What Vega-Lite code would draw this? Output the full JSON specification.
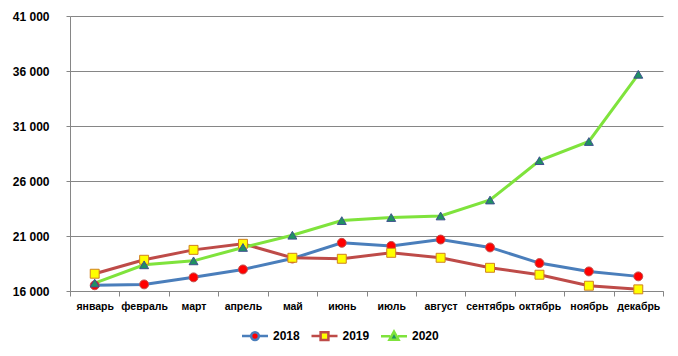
{
  "$schema": "https://vega.github.io/schema/vega-lite/v6.json",
  "width": 593,
  "height": 275,
  "autosize": {"type": "none"},
  "padding": {"left": 70, "top": 16, "right": 15, "bottom": 65},
  "background": "white",
  "config": {
    "view": {"stroke": null},
    "font": "Liberation Sans",
    "axis": {"labelColor": "#000000", "labelFontWeight": "bold", "labelFont": "Liberation Sans"}
  },
  "data": {
    "values": [
      {"month": "январь", "year": "2018", "value": 16520},
      {"month": "февраль", "year": "2018", "value": 16600},
      {"month": "март", "year": "2018", "value": 17240},
      {"month": "апрель", "year": "2018", "value": 17960},
      {"month": "май", "year": "2018", "value": 18950},
      {"month": "июнь", "year": "2018", "value": 20380},
      {"month": "июль", "year": "2018", "value": 20100},
      {"month": "август", "year": "2018", "value": 20680},
      {"month": "сентябрь", "year": "2018", "value": 19960},
      {"month": "октябрь", "year": "2018", "value": 18540},
      {"month": "ноябрь", "year": "2018", "value": 17780},
      {"month": "декабрь", "year": "2018", "value": 17330},
      {"month": "январь", "year": "2019", "value": 17570},
      {"month": "февраль", "year": "2019", "value": 18840},
      {"month": "март", "year": "2019", "value": 19740},
      {"month": "апрель", "year": "2019", "value": 20290},
      {"month": "май", "year": "2019", "value": 19020},
      {"month": "июнь", "year": "2019", "value": 18930},
      {"month": "июль", "year": "2019", "value": 19470},
      {"month": "август", "year": "2019", "value": 19020},
      {"month": "сентябрь", "year": "2019", "value": 18110},
      {"month": "октябрь", "year": "2019", "value": 17480},
      {"month": "ноябрь", "year": "2019", "value": 16480},
      {"month": "декабрь", "year": "2019", "value": 16150},
      {"month": "январь", "year": "2020", "value": 16720},
      {"month": "февраль", "year": "2020", "value": 18380},
      {"month": "март", "year": "2020", "value": 18740},
      {"month": "апрель", "year": "2020", "value": 19960},
      {"month": "май", "year": "2020", "value": 21070},
      {"month": "июнь", "year": "2020", "value": 22400},
      {"month": "июль", "year": "2020", "value": 22680},
      {"month": "август", "year": "2020", "value": 22820},
      {"month": "сентябрь", "year": "2020", "value": 24270},
      {"month": "октябрь", "year": "2020", "value": 27850},
      {"month": "ноябрь", "year": "2020", "value": 29590},
      {"month": "декабрь", "year": "2020", "value": 35700}
    ]
  },
  "encoding": {
    "x": {
      "field": "month",
      "type": "nominal",
      "sort": ["январь", "февраль", "март", "апрель", "май", "июнь", "июль", "август", "сентябрь", "октябрь", "ноябрь", "декабрь"],
      "scale": {"type": "band", "paddingInner": 0, "paddingOuter": 0},
      "bandPosition": 0.5,
      "axis": {
        "title": null,
        "labelAngle": 0,
        "labelFontSize": 10.5,
        "tickBand": "extent",
        "tickSize": 5,
        "tickColor": "#868686",
        "domainColor": "#868686",
        "labelPadding": 5,
        "grid": false
      }
    },
    "y": {
      "field": "value",
      "type": "quantitative",
      "scale": {"domain": [16000, 41000], "nice": false, "zero": false},
      "axis": {
        "title": null,
        "values": [16000, 21000, 26000, 31000, 36000, 41000],
        "labelExpr": "replace(format(datum.value, ','), ',', ' ')",
        "labelFontSize": 12,
        "tickSize": 4,
        "tickColor": "#868686",
        "domainColor": "#868686",
        "gridColor": "#868686",
        "labelPadding": 17
      }
    }
  },
  "layer": [
    {
      "mark": {"type": "line", "strokeWidth": 3},
      "encoding": {
        "stroke": {
          "field": "year",
          "type": "nominal",
          "scale": {"domain": ["2018", "2019", "2020"], "range": ["#4A7EBB", "#BE4B48", "#7FE33C"]},
          "legend": {
            "title": null,
            "orient": "none",
            "direction": "horizontal",
            "legendX": 177,
            "legendY": 312,
            "labelFontSize": 12,
            "labelFontWeight": "bold",
            "labelColor": "#000000",
            "symbolSize": 169,
            "symbolStrokeWidth": 2.5,
            "labelOffset": 10,
            "columnPadding": 6.5,
            "encode": {
              "symbols": {
                "update": {
                  "shape": {"signal": "datum.value == '2018' ? 'M-2,0H-0.6M0.6,0H2M-0.6,0A0.6,0.6,0,1,1,0.6,0A0.6,0.6,0,1,1,-0.6,0Z' : datum.value == '2019' ? 'M-2,0H-0.6M0.6,0H2M-0.6,-0.6H0.6V0.6H-0.6Z' : 'M-2,0H-0.6M0.6,0H2M0,-0.7L0.7,0.55H-0.7Z'"},
                  "fill": {"signal": "datum.value == '2018' ? '#FF0000' : datum.value == '2019' ? '#FFFF00' : '#1F9163'"}
                }
              }
            }
          }
        }
      }
    },
    {
      "mark": {"type": "point", "filled": true, "size": 80, "strokeWidth": 1, "opacity": 1},
      "encoding": {
        "shape": {
          "field": "year",
          "type": "nominal",
          "scale": {"domain": ["2018", "2019", "2020"], "range": ["circle", "square", "triangle-up"]},
          "legend": null
        },
        "fill": {
          "field": "year",
          "type": "nominal",
          "scale": {"domain": ["2018", "2019", "2020"], "range": ["#FF0000", "#FFFF00", "#1F9163"]},
          "legend": null
        },
        "stroke": {
          "field": "year",
          "type": "nominal",
          "scale": {"domain": ["2018", "2019", "2020"], "range": ["#C0504D", "#D08020", "#3F4F8F"]},
          "legend": null
        }
      }
    }
  ],
  "resolve": {"scale": {"stroke": "independent"}}
}
